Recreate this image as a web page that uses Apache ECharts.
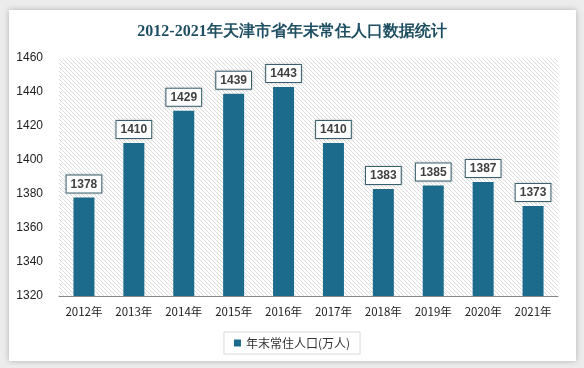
<!DOCTYPE html>
<html><head><meta charset="utf-8">
<script src="https://cdn.jsdelivr.net/npm/echarts@6/dist/echarts.min.js"></script>
<style>html,body{margin:0;padding:0;background:#ececec;}#c{width:584px;height:368px;}</style>
</head><body><div id="c"></div>
<script>
var categories = ['2012年','2013年','2014年','2015年','2016年','2017年','2018年','2019年','2020年','2021年'];
var values = [1378,1410,1429,1439,1443,1410,1383,1385,1387,1373];
var seriesName = '年末常住人口(万人)';
var titleText = '2012-2021年天津市省年末常住人口数据统计';

var pc = document.createElement('canvas');
pc.width = 4; pc.height = 4;
var g = pc.getContext('2d');
g.fillStyle = '#ffffff'; g.fillRect(0,0,4,4);
g.strokeStyle = '#dcdcdc'; g.lineWidth = 1;
g.beginPath();
g.moveTo(0,0); g.lineTo(4,4);
g.moveTo(-2,2); g.lineTo(2,6);
g.moveTo(2,-2); g.lineTo(6,2);
g.stroke();

var chart = echarts.init(document.getElementById('c'));
chart.setOption({
  animation:false,
  graphic:[{type:'rect',shape:{x:9,y:10,width:567,height:351},style:{fill:'#ffffff',shadowBlur:6,shadowColor:'rgba(0,0,0,0.25)'},z:-10}],
  title:{text:titleText,left:'center',top:19,textStyle:{fontFamily:'serif',fontSize:16,fontWeight:'bold',color:'#1f4f63'}},
  grid:{left:59,right:26,top:58,bottom:72,show:true,borderWidth:0,backgroundColor:{image:pc,repeat:'repeat'}},
  legend:{bottom:14,left:'center',data:[seriesName],itemWidth:7,itemHeight:7,icon:'rect',
    textStyle:{fontSize:12,color:'#333',fontFamily:'Noto Sans CJK SC'},borderColor:'#d9d9d9',borderWidth:1,padding:[5,10,5,10]},
  xAxis:{type:'category',data:categories,axisTick:{show:false},axisLine:{lineStyle:{color:'#888'}},
    axisLabel:{color:'#222',fontSize:11.5,margin:10,interval:0,fontFamily:'Noto Sans CJK SC'}},
  yAxis:{type:'value',min:1320,max:1460,interval:20,axisLine:{show:false},axisTick:{show:false},splitLine:{show:false},
    axisLabel:{color:'#222',fontSize:12,margin:16,formatter:function(v){return String(v);}}},
  series:[{name:seriesName,type:'bar',data:values,barWidth:21,
    itemStyle:{color:'#1c6a8c'},
    label:{show:true,position:'top',distance:5,color:'#404040',fontWeight:'bold',fontSize:12,
      backgroundColor:'#fff',borderColor:'#3d6675',borderWidth:1,padding:[3,4,2,4],
      shadowBlur:3,shadowColor:'rgba(0,0,0,0.2)'}}]
});
</script></body></html>
